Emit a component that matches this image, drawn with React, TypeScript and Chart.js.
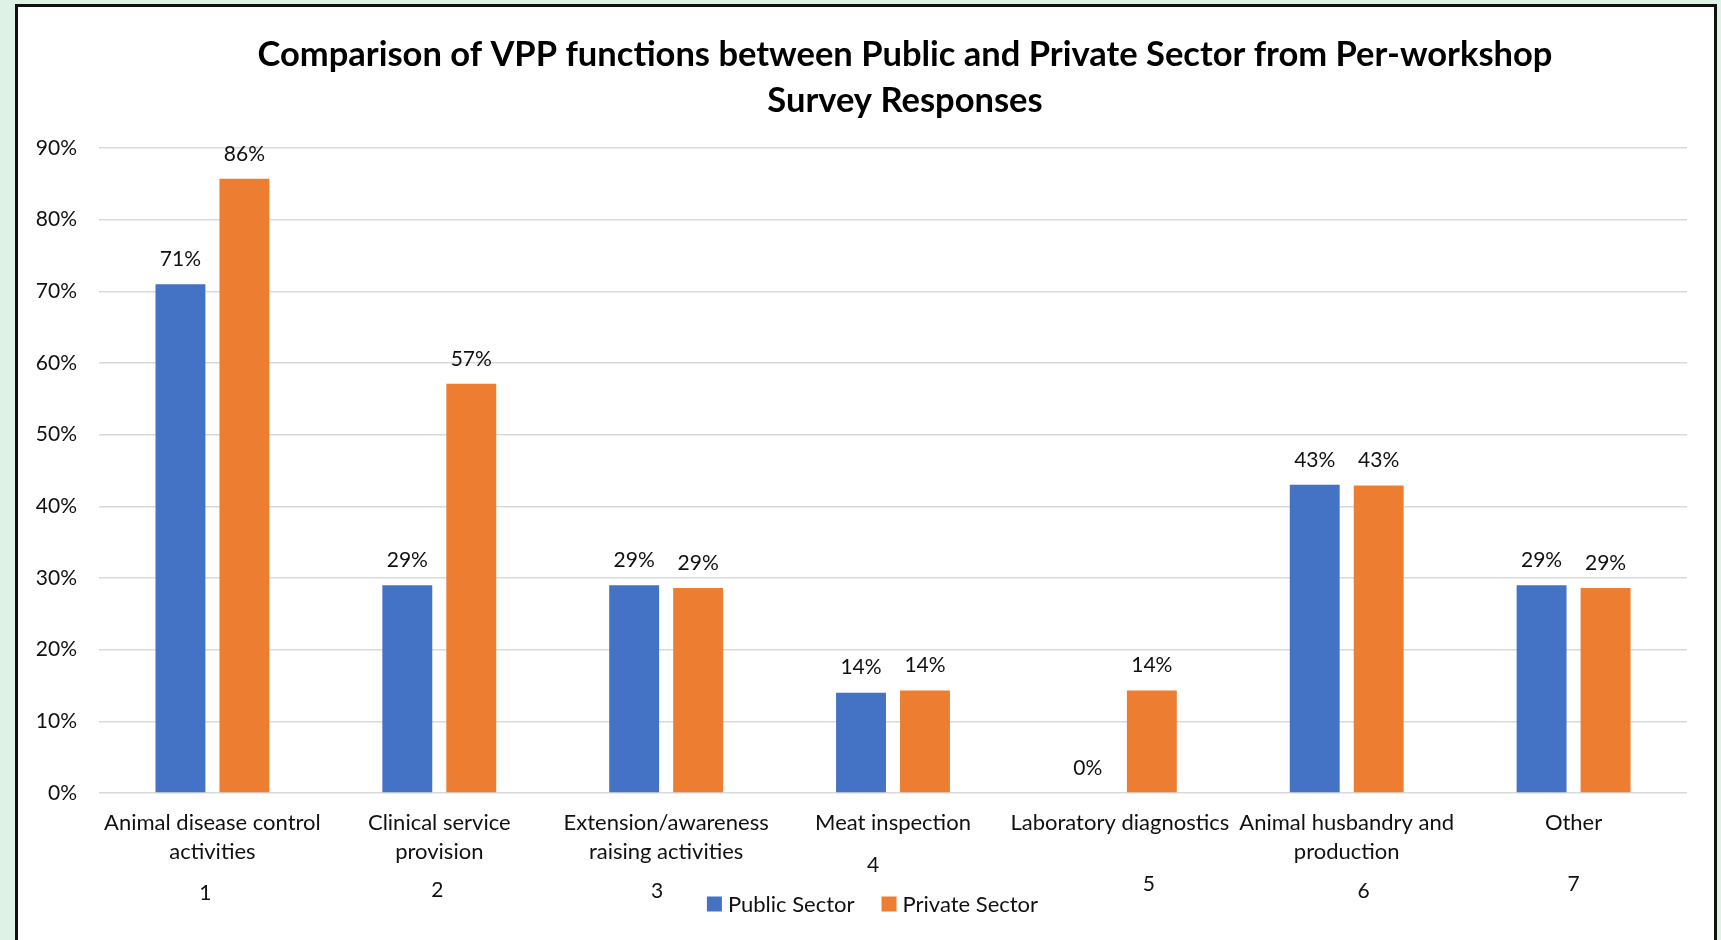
import React, { useEffect, useRef } from "react";
import { Chart, registerables } from "chart.js";

Chart.register(...registerables);

// ---------- data ----------
const categories: string[][] = [
  ["Animal disease control", "activities"],
  ["Clinical service", "provision"],
  ["Extension/awareness", "raising activities"],
  ["Meat inspection"],
  ["Laboratory diagnostics"],
  ["Animal husbandry and", "production"],
  ["Other"],
];
const categoryNumbers = ["1", "2", "3", "4", "5", "6", "7"];
const seriesNames = ["Public Sector", "Private Sector"];
const publicSector = [71, 29, 29, 14, 0, 43, 29];
const privateSector = [85.7, 57.1, 28.6, 14.3, 14.3, 42.9, 28.6];
const yMin = 0;
const yMax = 90;
const yStep = 10;
const titleLines = [
  "Comparison of VPP functions between Public and Private Sector from Per-workshop",
  "Survey Responses",
];

// ---------- layout / style ----------
const W = 1721;
const H = 940;
const FONT = "Lato, 'Open Sans', sans-serif";
const TEXT = "#111111";
const BLUE = "#4472C4";
const ORANGE = "#ED7D31";
const numberPlacement = [
  { dx: -7, y: 893 },
  { dx: -2, y: 890 },
  { dx: -9, y: 891 },
  { dx: -20, y: 865 },
  { dx: 29, y: 884 },
  { dx: 17, y: 891 },
  { dx: 0, y: 884 },
];

const titlePlugin = {
  id: "customTitle",
  afterDraw(chart: any) {
    const ctx = chart.ctx;
    ctx.save();
    ctx.fillStyle = "#000";
    ctx.font = `bold 34.5px ${FONT}`;
    ctx.textAlign = "center";
    ctx.textBaseline = "middle";
    ctx.fillText(titleLines[0], 905, 55);
    ctx.fillText(titleLines[1], 905, 101);
    ctx.restore();
  },
};

const valueLabelPlugin = {
  id: "valueLabels",
  afterDatasetsDraw(chart: any) {
    const ctx = chart.ctx;
    ctx.save();
    ctx.fillStyle = TEXT;
    ctx.font = `21px ${FONT}`;
    ctx.textAlign = "center";
    ctx.textBaseline = "middle";
    chart.data.datasets.forEach((ds: any, di: number) => {
      const meta = chart.getDatasetMeta(di);
      meta.data.forEach((el: any, i: number) => {
        const v = ds.data[i];
        ctx.fillText(Math.round(v) + "%", el.x, el.y - 25);
      });
    });
    ctx.restore();
  },
};

const numberPlugin = {
  id: "categoryNumbers",
  afterDraw(chart: any) {
    const ctx = chart.ctx;
    const xs = chart.scales.x;
    ctx.save();
    ctx.fillStyle = TEXT;
    ctx.font = `21px ${FONT}`;
    ctx.textAlign = "center";
    ctx.textBaseline = "middle";
    categoryNumbers.forEach((n, i) => {
      const p = numberPlacement[i];
      ctx.fillText(n, xs.getPixelForValue(i) + p.dx, p.y);
    });
    ctx.restore();
  },
};

const legendPlugin = {
  id: "customLegend",
  afterDraw(chart: any) {
    const ctx = chart.ctx;
    const ds = chart.data.datasets;
    const sq = 15;
    const gapBoxText = 6;
    const gapItems = 27;
    const cx = 872.5;
    const cy = 904;
    ctx.save();
    ctx.font = `22px ${FONT}`;
    ctx.textBaseline = "middle";
    ctx.textAlign = "left";
    const widths = ds.map((d: any) => ctx.measureText(d.label).width);
    let total = 0;
    widths.forEach((w: number, i: number) => {
      total += sq + gapBoxText + w + (i < widths.length - 1 ? gapItems : 0);
    });
    let x = cx - total / 2;
    ds.forEach((d: any, i: number) => {
      ctx.fillStyle = d.backgroundColor;
      ctx.fillRect(x, cy - sq / 2, sq, sq);
      x += sq + gapBoxText;
      ctx.fillStyle = TEXT;
      ctx.fillText(d.label, x, cy + 1);
      x += widths[i] + gapItems;
    });
    ctx.restore();
  },
};

export default function App() {
  const ref = useRef<HTMLCanvasElement>(null);

  useEffect(() => {
    if (!ref.current) return;
    const chart = new Chart(ref.current, {
      type: "bar",
      data: {
        labels: categories,
        datasets: [
          {
            label: seriesNames[0],
            data: publicSector,
            backgroundColor: BLUE,
            categoryPercentage: 0.564,
            barPercentage: 0.78,
          },
          {
            label: seriesNames[1],
            data: privateSector,
            backgroundColor: ORANGE,
            categoryPercentage: 0.564,
            barPercentage: 0.78,
          },
        ],
      },
      options: {
        animation: false,
        responsive: false,
        layout: { padding: { top: 148, left: 16, right: 34, bottom: 40 } },
        plugins: {
          title: { display: false },
          tooltip: { enabled: false },
          legend: { display: false },
        },
        scales: {
          x: {
            grid: { display: false, drawTicks: false },
            border: { display: false },
            ticks: {
              font: { family: FONT, size: 22, lineHeight: 1.33 },
              color: TEXT,
              padding: 15,
              maxRotation: 0,
              autoSkip: false,
            },
            afterFit(scale: any) {
              scale.height = 107;
            },
          },
          y: {
            min: yMin,
            max: yMax,
            grid: { color: "#d9d9d9", lineWidth: 1.5, drawTicks: false },
            border: { display: false },
            ticks: {
              stepSize: yStep,
              font: { family: FONT, size: 21 },
              color: TEXT,
              padding: 22,
              callback: (v: any) => v + "%",
            },
            afterFit(scale: any) {
              scale.width = 83;
            },
          },
        },
      },
      plugins: [titlePlugin, valueLabelPlugin, numberPlugin, legendPlugin],
    });
    return () => chart.destroy();
  }, []);

  return (
    <div
      style={{
        position: "absolute",
        left: 0,
        top: 0,
        width: W,
        height: H,
        background: "#def2e6",
        overflow: "hidden",
      }}
    >
      <div
        style={{
          position: "absolute",
          left: 15,
          top: 4,
          width: 1702,
          height: 980,
          background: "#fff",
          border: "3px solid #111",
          boxSizing: "border-box",
        }}
      />
      <canvas
        ref={ref}
        width={W}
        height={H}
        style={{ position: "absolute", left: 0, top: 0, width: W, height: H }}
      />
    </div>
  );
}
